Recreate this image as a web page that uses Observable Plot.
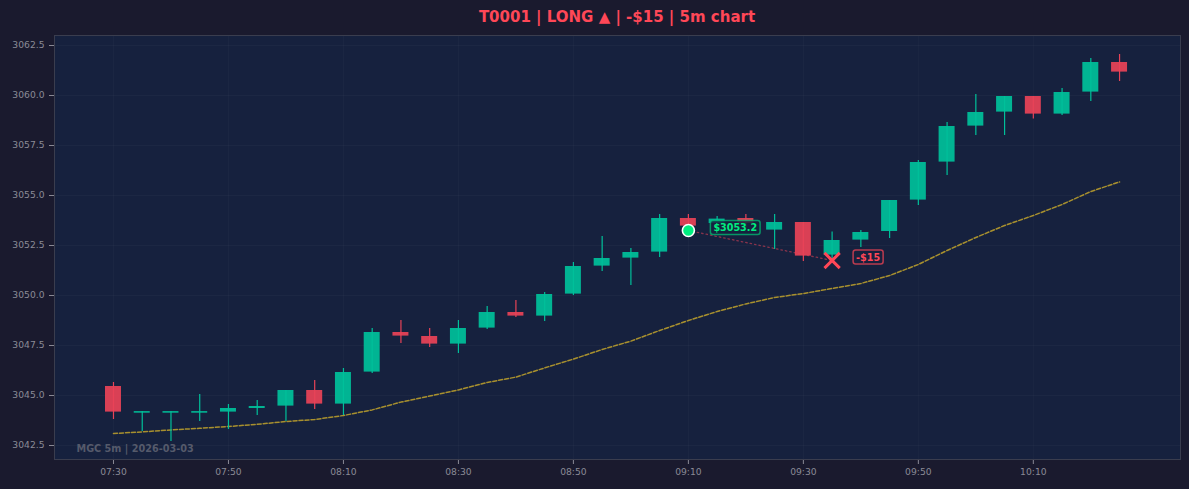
<!DOCTYPE html>
<html><head><meta charset="utf-8">
<script src="https://cdn.jsdelivr.net/npm/d3@7"></script>
<script src="https://cdn.jsdelivr.net/npm/@observablehq/plot@0.6"></script>
<style>
html,body{margin:0;padding:0;background:#1a1a2e;}
body{width:1189px;height:489px;overflow:hidden;font-family:"DejaVu Sans",sans-serif;}
#title{height:34px;box-sizing:border-box;padding-left:54px;padding-right:9px;text-align:center;color:#ff4757;font-weight:bold;font-size:15px;line-height:34px;white-space:nowrap;}
#chart svg{display:block;}
</style></head><body>
<div id="title">T0001 | LONG ▲ | -$15 | 5m chart</div>
<div id="chart"></div>
<script>
// ---- data ----
const times = ["07:30","07:35","07:40","07:45","07:50","07:55","08:00","08:05","08:10","08:15","08:20","08:25",
  "08:30","08:35","08:40","08:45","08:50","08:55","09:00","09:05","09:10","09:15","09:20","09:25",
  "09:30","09:35","09:40","09:45","09:50","09:55","10:00","10:05","10:10","10:15","10:20","10:25"];
const opens  = [3045.45,3044.18,3044.18,3044.18,3044.17,3044.35,3044.47,3045.25,3044.57,3046.17,3048.15,3047.95,
  3047.57,3048.37,3049.15,3048.97,3050.07,3051.47,3051.87,3052.17,3053.85,3053.60,3053.85,3053.27,
  3053.65,3052.02,3052.77,3053.20,3054.77,3056.67,3058.47,3059.17,3059.95,3059.07,3060.17,3061.65];
const highs  = [3045.65,3044.20,3044.20,3045.05,3044.55,3044.75,3045.25,3045.75,3046.35,3048.35,3048.75,3048.35,
  3048.75,3049.45,3049.75,3050.15,3051.65,3052.95,3052.35,3054.05,3054.05,3053.95,3054.05,3054.05,
  3053.65,3053.17,3053.25,3054.75,3056.75,3058.65,3060.05,3059.95,3059.95,3060.35,3061.85,3062.05];
const lows   = [3043.80,3043.20,3042.70,3043.70,3043.30,3044.00,3043.70,3044.30,3044.00,3046.10,3047.60,3047.40,
  3047.10,3048.30,3048.90,3048.70,3050.00,3051.20,3050.50,3051.90,3053.20,3053.30,3053.40,3052.30,
  3051.70,3051.60,3052.40,3052.85,3054.50,3056.00,3058.00,3058.00,3058.82,3059.00,3059.70,3060.70];
const closes = [3044.17,3044.18,3044.18,3044.18,3044.35,3044.45,3045.25,3044.57,3046.15,3048.15,3047.97,3047.57,
  3048.35,3049.15,3048.97,3050.05,3051.45,3051.85,3052.15,3053.85,3053.47,3053.82,3053.60,3053.65,
  3051.97,3052.75,3053.15,3054.75,3056.65,3058.45,3059.15,3059.95,3059.07,3060.15,3061.65,3061.17];
const ema    = [3043.10,3043.18,3043.28,3043.36,3043.45,3043.56,3043.70,3043.80,3044.00,3044.28,3044.67,3044.97,
  3045.28,3045.65,3045.92,3046.38,3046.82,3047.30,3047.72,3048.25,3048.75,3049.20,3049.58,3049.90,
  3050.10,3050.35,3050.60,3051.00,3051.55,3052.25,3052.90,3053.50,3054.00,3054.55,3055.20,3055.68];
const yTicks = [3042.5,3045.0,3047.5,3050.0,3052.5,3055.0,3057.5,3060.0,3062.5];
const xTickLabels = ["07:30","07:50","08:10","08:30","08:50","09:10","09:30","09:50","10:10"];
const entryTime = "09:10", entryPrice = 3053.25, entryLabel = "$3053.2";
const exitTime = "09:35", exitPrice = 3051.75, exitLabel = "-$15";
const watermark = "MGC 5m | 2026-03-03";

// ---- build ----
const MIN = 60000;
const parse = s => new Date(Date.UTC(2026, 2, 3, +s.slice(0,2), +s.slice(3,5)));
const candles = times.map((t,i) => ({t: parse(t), o: opens[i], h: highs[i], l: lows[i], c: closes[i]}));
const emaData = times.map((t,i) => ({t: parse(t), v: ema[i]}));
const G = "#00c09a", R = "#e84357";
const col = d => d.c >= d.o ? G : R;
const bodies = candles.filter(d => Math.abs(d.c - d.o) > 0.015);
const dojis = candles.filter(d => Math.abs(d.c - d.o) <= 0.015);
const half = 1.39 * MIN;
const x0 = parse("07:30");
const entry = {t: parse(entryTime), v: entryPrice};
const exit = {t: parse(exitTime), v: exitPrice};
const xTicks = xTickLabels.map(parse);

const chart = Plot.plot({
  width: 1189, height: 455,
  marginLeft: 54, marginRight: 9, marginTop: 1, marginBottom: 30,
  style: {background: "transparent", color: "#8a8a96", fontFamily: "DejaVu Sans", fontSize: "9.2px", overflow: "visible"},
  x: {type: "utc", domain: [new Date(+x0 - 10.26*MIN), new Date(+x0 + 185.6*MIN)], label: null},
  y: {domain: [3041.8, 3063.0], label: null},
  marks: [
    Plot.frame({fill: "#16213e"}),
    Plot.gridX(xTicks, {stroke: "#ffffff", strokeOpacity: 0.028}),
    Plot.gridY(yTicks, {stroke: "#ffffff", strokeOpacity: 0.028}),
    Plot.line(emaData, {x: "t", y: "v", stroke: "#cdac2a", strokeOpacity: 0.8, strokeWidth: 1.5, strokeDasharray: "4,2"}),
    Plot.ruleX(candles, {x: "t", y1: "l", y2: "h", stroke: col, strokeWidth: 1.2}),
    Plot.rect(bodies, {x1: d => new Date(+d.t - half), x2: d => new Date(+d.t + half), y1: "o", y2: "c", fill: col, fillOpacity: 0.93}),
    Plot.ruleY(dojis, {x1: d => new Date(+d.t - half), x2: d => new Date(+d.t + half), y: "o", stroke: G, strokeWidth: 1.5}),
    Plot.line([entry, exit], {x: "t", y: "v", stroke: "#e84357", strokeOpacity: 0.55, strokeWidth: 1.3, strokeDasharray: "1.5,3"}),
    Plot.dot([entry], {x: "t", y: "v", r: 6, fill: "#00ee80", stroke: "#ffffff", strokeWidth: 1.6}),
    Plot.dot([exit], {x: "t", y: "v", symbol: "times", r: 7, stroke: "#ff4757", strokeWidth: 3}),
    Plot.text([entry], {x: "t", y: "v", text: () => entryLabel, dx: 25, dy: -2.5, textAnchor: "start", fill: "#00ee80", fontWeight: "bold", fontSize: 9.6}),
    Plot.text([exit], {x: "t", y: "v", text: () => exitLabel, dx: 24, dy: -3, textAnchor: "start", fill: "#ff4757", fontWeight: "bold", fontSize: 9.6}),
    Plot.text([watermark], {frameAnchor: "bottom-left", dx: 22, dy: -11, lineAnchor: "middle", textAnchor: "start", fill: "#555a6b", fontWeight: "bold", fontSize: 9.7}),
    Plot.axisY({ticks: yTicks, tickFormat: d3.format(".1f"), tickSize: 5, tickPadding: 5, label: null}),
    Plot.axisX({ticks: xTicks, tickFormat: d3.utcFormat("%H:%M"), tickSize: 5, tickPadding: 4, label: null}),
    Plot.frame({stroke: "#3a3d4e", strokeWidth: 1})
  ]
});
document.getElementById("chart").appendChild(chart);

function boxify(label, stroke) {
  Array.from(chart.querySelectorAll("text")).filter(t => t.textContent === label).forEach(t => {
    const b = t.getBBox();
    const r = document.createElementNS("http://www.w3.org/2000/svg", "rect");
    r.setAttribute("x", b.x - 3);
    r.setAttribute("y", b.y - 1.5);
    r.setAttribute("width", b.width + 6);
    r.setAttribute("height", b.height + 3);
    r.setAttribute("rx", 2.5);
    r.setAttribute("fill", "#16213e");
    r.setAttribute("fill-opacity", 0.85);
    r.setAttribute("stroke", stroke);
    r.setAttribute("stroke-opacity", 0.7);
    r.setAttribute("stroke-width", 1.5);
    const tr = t.getAttribute("transform");
    if (tr) r.setAttribute("transform", tr);
    t.parentNode.insertBefore(r, t);
  });
}
boxify(entryLabel, "#00c878");
boxify(exitLabel, "#ff4757");
</script>
</body></html>
